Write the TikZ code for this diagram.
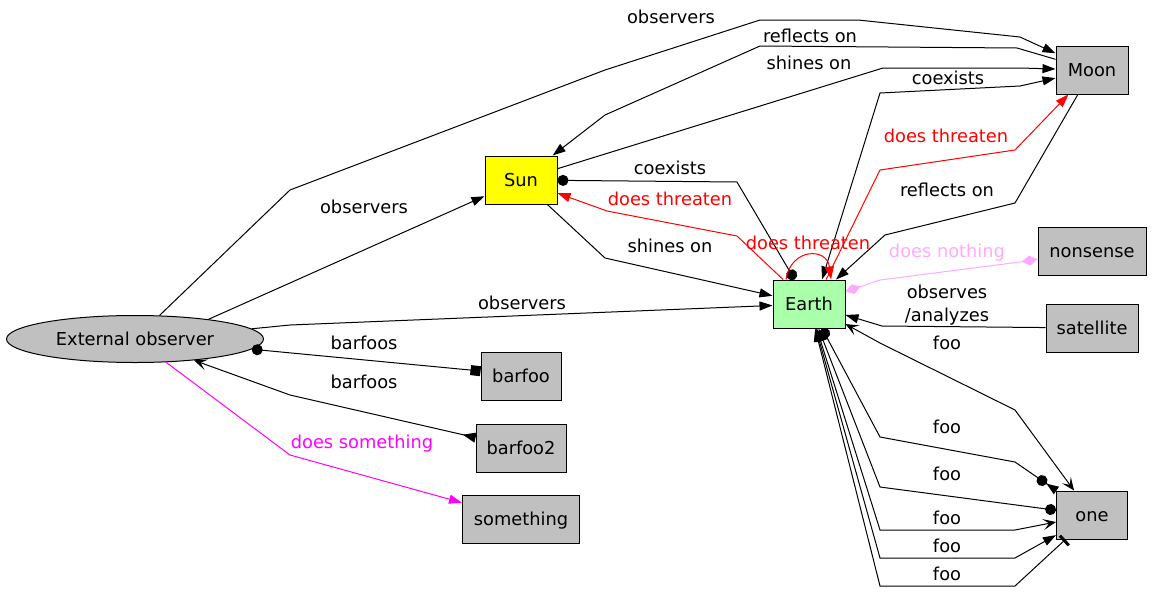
\documentclass[tikz,border=0pt]{standalone}
\usepackage{fontspec}
\setmainfont{DejaVu Sans}
\usetikzlibrary{arrows.meta,shapes.geometric}
\definecolor{gbox}{RGB}{192,192,192}
\definecolor{earthg}{RGB}{170,255,170}
\definecolor{pinkl}{RGB}{255,170,255}
\definecolor{mag}{RGB}{255,0,255}
\definecolor{yel}{RGB}{255,255,0}
\definecolor{rd}{RGB}{255,0,0}
\tikzset{
  nrm/.tip={Triangle[length=13pt,width=9pt]},
  dt/.tip={Circle[length=11pt]},
  ve/.tip={Stealth[length=13pt,width=11pt,inset=6pt]},
  bx/.tip={Square[length=10pt]},
  iv/.tip={Triangle[length=13pt,width=10pt,reversed]},
  dm/.tip={Diamond[length=16pt,width=10pt]},
  te/.tip={Rectangle[length=3pt,width=13pt]},
}
\begin{document}
\begin{tikzpicture}[x=1pt,y=-1pt,
  font=\fontsize{17.8}{20}\selectfont,
  conn/.style={draw,line width=1pt},
  gb/.style={draw,line width=1pt,fill=gbox,minimum height=48pt,inner sep=0pt,text height=13pt,text depth=0pt},
  ell/.style={ellipse,draw,line width=1pt,fill=gbox,minimum width=257pt,minimum height=47pt,inner sep=0pt,text height=13pt,text depth=0pt},
  lbl/.style={inner sep=0pt,text height=13pt,text depth=0pt},
]
\useasboundingbox (0,0) rectangle (1152,592);

% nodes
\node[ell] (eo) at (135,339) {External observer};
\node[gb,fill=yel,minimum width=72pt] (sun) at (521,180) {Sun};
\node[gb,minimum width=72pt] (moon) at (1092,70) {Moon};
\node[gb,fill=earthg,minimum width=72pt] (earth) at (809,304) {Earth};
\node[gb,minimum width=108pt] (nonsense) at (1092,251) {nonsense};
\node[gb,minimum width=92pt] (satellite) at (1092,328) {satellite};
\node[gb,minimum width=80pt] (barfoo) at (521,376) {barfoo};
\node[gb,minimum width=90pt] (barfoo2) at (521,448) {barfoo2};
\node[gb,minimum width=117pt] (something) at (521,519) {something};
\node[gb,minimum width=71pt] (one) at (1092,515) {one};

% edges
\draw[conn,-{nrm}] (eo) -- (290,190) -- (605,70) -- (760,20) -- (858,20) -- (1020,37) -- (moon);
\draw[conn,-{nrm}] (moon) -- (1017,48) -- (760,46) -- (605,115) -- (sun);
\draw[conn,-{nrm}] (sun) -- (883,68) -- (1020,68) -- (moon);
\draw[conn,{nrm}-{nrm}] (earth.62) -- (880,93) -- (1020,86) -- (moon);
\draw[conn,rd,-{nrm}] (earth.55) -- (880,170) -- (1015,150) -- (moon);
\draw[conn,-{nrm}] (moon) -- (1015,203) -- (885,235) -- (earth);
\draw[conn,{dt}-{dt}] (sun) -- (737,182) -- (earth);
\draw[conn,rd,-{nrm}] (earth) -- (737,236) -- (607,211) -- (sun);
\draw[conn,-{nrm}] (sun) -- (605,258) -- (earth);
\draw[conn,rd,-{nrm}] ([xshift=-23pt]earth.north) .. controls ([xshift=-18pt,yshift=32pt]earth.north) and ([xshift=18pt,yshift=32pt]earth.north) .. ([xshift=22pt]earth.north);
\draw[conn,-{nrm}] (eo.15) -- (sun);
\draw[conn,-{nrm}] (eo.5) -- (290,325) -- (earth);
\draw[conn,{dt}-{bx}] (eo.-5) -- (470,370) -- (barfoo);
\draw[conn,{iv}-{ve}] (barfoo2) -- (290,395) -- (eo);
\draw[conn,mag,-{nrm}] (eo) -- (290,455) -- (something);
\draw[conn,pinkl,{dm}-{dm}] (earth) -- (880,280) -- (1020,262) -- (nonsense);
\draw[conn,-{nrm}] (satellite) -- (882,326) -- (earth);
\draw[conn,{ve}-{ve}] (earth) -- (880,343) -- (1015,410) -- (one);
\draw[conn,{dt}-{Circle[length=11pt] Triangle[length=12pt,width=9pt,reversed]}] (earth) -- (880,437) -- (1015,462) -- (one);
\draw[conn,{nrm}-{dt}] (earth) -- (880,487) -- (one);
\draw[conn,{nrm}-{ve}] (earth) -- (880,530) -- (1015,530) -- (one);
\draw[conn,{nrm}-{nrm}] (earth) -- (880,558) -- (1015,558) -- (one);
\draw[conn,{nrm}-{te}] (earth) -- (880,586) -- (1015,586) -- (one);

% labels
\node[lbl] (l1) at (671,17) {observers};
\node[lbl] (l2) at (810,36) {reflects on};
\node[lbl] (l3) at (809,63) {shines on};
\node[lbl] (l4) at (948,78) {coexists};
\node[lbl,rd] (l5) at (946,136) {does threaten};
\node[lbl] (l6) at (670,168) {coexists};
\node[lbl] (l7) at (364,207) {observers};
\node[lbl,rd] (l8) at (670,199) {does threaten};
\node[lbl] (l9) at (947,190) {reflects on};
\node[lbl] (l10) at (670,246) {shines on};
\node[lbl,rd] (l11) at (808,243) {does threaten};
\node[lbl,pinkl] (l12) at (947,251) {does nothing};
\node[lbl] (l13) at (522,303) {observers};
\node[lbl] (l14) at (947,292) {observes};
\node[lbl] (l15) at (947,315) {/analyzes};
\node[lbl] (l16) at (947,343) {foo};
\node[lbl] (l17) at (364,343) {barfoos};
\node[lbl] (l18) at (364,382) {barfoos};
\node[lbl] (l19) at (947,427) {foo};
\node[lbl,mag] (l20) at (362,442) {does something};
\node[lbl] (l21) at (947,474) {foo};
\node[lbl] (l22) at (947,518) {foo};
\node[lbl] (l23) at (947,546) {foo};
\node[lbl] (l24) at (947,574) {foo};
\end{tikzpicture}
\end{document}
